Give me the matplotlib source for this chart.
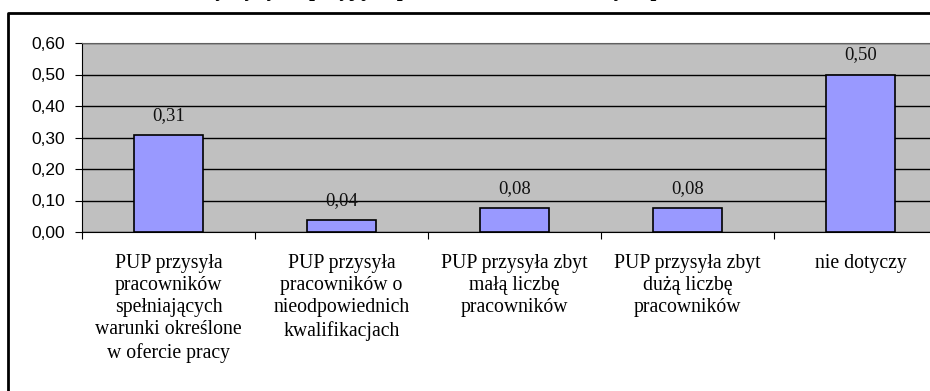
import matplotlib
matplotlib.use("Agg")
import matplotlib.pyplot as plt
import numpy as np
from matplotlib.lines import Line2D

title = "Przyczyny nieprzyjęcia pracowników skierowanych przez PUP"
categories = [
    "PUP przysyła\npracowników\nspełniających\nwarunki określone\nw ofercie pracy",
    "PUP przysyła\npracowników o\nnieodpowiednich\nkwalifikacjach",
    "PUP przysyła zbyt\nmałą liczbę\npracowników",
    "PUP przysyła zbyt\ndużą liczbę\npracowników",
    "nie dotyczy",
]
values = [0.3077, 0.0385, 0.0769, 0.0769, 0.50]
yticks = [0.0, 0.1, 0.2, 0.3, 0.4, 0.5, 0.6]

W, H = 930, 391
fig = plt.figure(figsize=(W / 100, H / 100), dpi=100)
fig.patch.set_facecolor("white")

left, right, top, bottom = 82, 947, 43, 232
ax = fig.add_axes([left / W, 1 - bottom / H, (right - left) / W, (bottom - top) / H])
ax.set_facecolor("#C0C0C0")

x = np.arange(len(values))
ax.bar(x, values, width=0.4, color="#9999FF", edgecolor="black", linewidth=1.2, zorder=3)

ax.set_xlim(-0.5, len(values) - 0.5)
ax.set_ylim(0, 0.6)
ax.set_yticks(yticks)
ax.set_yticklabels([f"{t:.2f}".replace(".", ",") for t in yticks],
                   family="Liberation Sans", fontsize=12.5)
ax.yaxis.grid(True, color="black", linewidth=1, zorder=1)
ax.set_axisbelow(True)

ax.set_xticks(np.arange(-0.5, len(values)), labels=[])
ax.set_xticks(x, labels=categories, minor=True)
ax.tick_params(axis="x", which="minor", length=0, pad=16)
ax.tick_params(axis="x", which="major", length=5, direction="out", color="black")
ax.tick_params(axis="y", length=5, direction="out", color="black", pad=7)
for lab in ax.get_xticklabels(minor=True):
    lab.set_family("Liberation Serif")
    lab.set_fontsize(14.2)
    lab.set_linespacing(1.22)
    lab.set_verticalalignment("top")

for i, v in zip(x, values):
    ax.annotate(f"{v:.2f}".replace(".", ","), (i, v), xytext=(0, 14),
                textcoords="offset points", ha="center", va="center",
                family="Liberation Serif", fontsize=13.5, color="#111111")

ax.spines["left"].set_color("black")
ax.spines["bottom"].set_color("black")
ax.spines["top"].set_color("#606060")
ax.spines["right"].set_visible(False)

# outer chart frame (cropped on the right and bottom)
fig.add_artist(Line2D([8 / W, 8 / W, 1.0], [0, 1 - 13 / H, 1 - 13 / H],
                      transform=fig.transFigure, color="black", linewidth=2))

# title: mostly above the visible area, only descenders show
fig.text(0.5, 1 + 4.3 / H, title, ha="center", va="baseline",
         family="Liberation Serif", weight="bold", fontsize=15)

fig.savefig("out.png", dpi=100)
